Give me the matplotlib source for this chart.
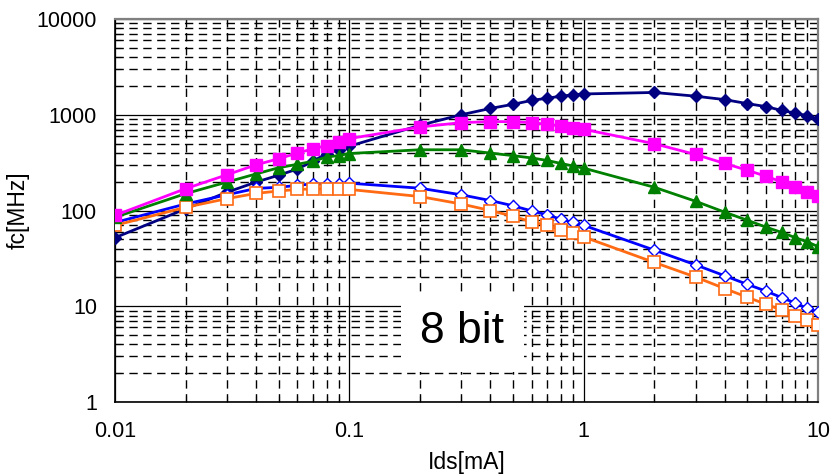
import numpy as np
import matplotlib
matplotlib.use("Agg")
import matplotlib.pyplot as plt
from matplotlib.ticker import LogLocator, FixedLocator, FixedFormatter, NullFormatter

plt.rcParams['font.family'] = ['Liberation Sans', 'DejaVu Sans']

# Ids [mA]
ids = [0.01, 0.02, 0.03, 0.04, 0.05, 0.06, 0.07, 0.08, 0.09, 0.1,
       0.2, 0.3, 0.4, 0.5, 0.6, 0.7, 0.8, 0.9, 1,
       2, 3, 4, 5, 6, 7, 8, 9, 10]

# fc [MHz] per series
fc_navy = [52, 104, 155, 198, 234, 271, 327, 394, 431, 470,
           776, 1000, 1165, 1287, 1413, 1491, 1564, 1617, 1650,
           1710, 1564, 1440, 1307, 1217, 1110, 1040, 980, 900]
fc_magenta = [89, 169, 236, 300, 348, 398, 441, 477, 515, 564,
              745, 828, 848, 848, 828, 794, 763, 732, 705,
              499, 385, 310, 263, 228, 199, 177, 155, 142]
fc_green = [85, 150, 198, 241, 280, 304, 327, 362, 375, 394,
            431, 431, 398, 374, 354, 333, 310, 292, 277,
            175, 125, 96, 79, 67, 59, 52, 47, 42]
fc_blue = [75, 117, 146, 170, 175, 183, 190, 190, 190, 193,
           171, 146, 127, 112, 99, 90, 81, 75, 70,
           38.6, 27.1, 20.8, 16.9, 14.4, 12.3, 10.8, 9.5, 8.7]
fc_orange = [70, 108, 133, 151, 160, 166, 168, 168, 168, 166,
             140, 117, 100, 87, 76, 70, 63, 58, 53,
             28.7, 20.2, 15.3, 12.4, 10.5, 9.1, 7.9, 7.1, 6.3]

x_ticks = [0.01, 0.1, 1, 10]
x_labels = ['0.01', '0.1', '1', '10']
y_ticks = [1, 10, 100, 1000, 10000]
y_labels = ['1', '10', '100', '1000', '10000']

fig = plt.figure(figsize=(8.31, 4.76), dpi=100)
ax = fig.add_axes([0.1384, 0.1555, 0.8460, 0.8045])

ax.plot(ids, fc_navy, color='#000080', lw=2.0, marker='D', ms=6.5, zorder=3)
ax.plot(ids, fc_blue, color='#0000ff', lw=2.0, marker='D', ms=6.5,
        mfc='white', mec='#0000ff', mew=1.0, zorder=3)
ax.plot(ids, fc_orange, color='#ff6a13', lw=2.0, marker='s', ms=8,
        mfc='white', mec='#ff6a13', mew=1.2, zorder=3)
ax.plot(ids, fc_green, color='#008000', lw=2.0, marker='^', ms=8.5, zorder=4)
ax.plot(ids, fc_magenta, color='#ff00ff', lw=2.0, marker='s', ms=8, zorder=4)

ax.set_xscale('log')
ax.set_yscale('log')
ax.set_xlim(0.01, 10)
ax.set_ylim(1, 10000)

ax.xaxis.set_major_locator(FixedLocator(x_ticks))
ax.xaxis.set_major_formatter(FixedFormatter(x_labels))
ax.yaxis.set_major_locator(FixedLocator(y_ticks))
ax.yaxis.set_major_formatter(FixedFormatter(y_labels))
ax.xaxis.set_minor_locator(LogLocator(base=10, subs=np.arange(2, 10)))
ax.yaxis.set_minor_locator(LogLocator(base=10, subs=np.arange(2, 10)))
ax.xaxis.set_minor_formatter(NullFormatter())
ax.yaxis.set_minor_formatter(NullFormatter())

ax.grid(True, which='major', color='black', lw=0.9, ls='-')
ax.grid(True, which='minor', color='black', lw=1.0, ls=(0, (6, 4)))
ax.set_axisbelow(True)

ax.tick_params(which='major', direction='in', length=0, labelsize=15.5)
ax.tick_params(axis='x', which='major', pad=14)
ax.tick_params(axis='y', which='major', pad=13)
ax.tick_params(which='minor', direction='in', length=4, width=0.8)

for s in ['left', 'bottom']:
    ax.spines[s].set_color('black')
    ax.spines[s].set_linewidth(1.2)
for s in ['top', 'right']:
    ax.spines[s].set_color('#808080')
    ax.spines[s].set_linewidth(1.6)

ax.set_xlabel('Ids[mA]', fontsize=16.5, labelpad=6)
ax.set_ylabel('fc[MHz]', fontsize=16.5, labelpad=5)

ax.text(0.494, 0.183, '8 bit', transform=ax.transAxes, ha='center', va='center',
        fontsize=32, bbox=dict(facecolor='white', edgecolor='none', pad=14), zorder=5)

fig.savefig('out.png', dpi=100)
